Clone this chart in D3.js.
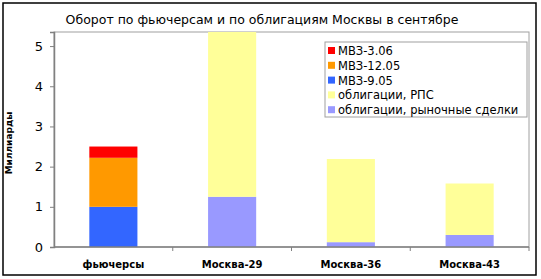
<!DOCTYPE html>
<html>
<head>
<meta charset="utf-8">
<script src="https://cdn.jsdelivr.net/npm/d3@7"></script>
<style>
body { margin: 0; background: #fff; }
text { font-family: "DejaVu Sans", Verdana, sans-serif; fill: #000; }
</style>
</head>
<body>
<div id="chart"></div>
<script>
// data (billions)
var categories = ["фьючерсы", "Москва-29", "Москва-36", "Москва-43"];
var seriesNames = ["облигации, рыночные сделки", "облигации, РПС", "МВЗ-9.05", "МВЗ-12.05", "МВЗ-3.06"];
var bondsMarket = [0, 1.25, 0.12, 0.30];
var bondsRps = [0, 4.15, 2.07, 1.28];
var mvz905 = [1.0, 0, 0, 0];
var mvz1205 = [1.22, 0, 0, 0];
var mvz306 = [0.28, 0, 0, 0];
var seriesColors = ["#9999FF", "#FFFF99", "#3366FF", "#FF9900", "#FF0000"];
var yTicks = [0, 1, 2, 3, 4, 5];

var W = 541, H = 279;
var plot = {left: 54, top: 32, right: 529, bottom: 247};

var svg = d3.select("#chart").append("svg")
  .attr("width", W)
  .attr("height", H);

// outer frame
svg.append("rect")
  .attr("x", 3).attr("y", 3)
  .attr("width", 533).attr("height", 272)
  .attr("fill", "#fff")
  .attr("stroke", "#000")
  .attr("stroke-width", 1.5);

var rows = categories.map(function (c, i) {
  var r = {cat: c};
  r[seriesNames[0]] = bondsMarket[i];
  r[seriesNames[1]] = bondsRps[i];
  r[seriesNames[2]] = mvz905[i];
  r[seriesNames[3]] = mvz1205[i];
  r[seriesNames[4]] = mvz306[i];
  return r;
});

var stacked = d3.stack().keys(seriesNames)(rows);

var x = d3.scaleBand()
  .domain(categories)
  .range([plot.left, plot.right])
  .padding(0);

var y = d3.scaleLinear()
  .domain([0, 5.35])
  .range([plot.bottom, plot.top]);

svg.append("defs").append("clipPath")
  .attr("id", "clip")
  .append("rect")
  .attr("x", plot.left).attr("y", plot.top)
  .attr("width", plot.right - plot.left)
  .attr("height", plot.bottom - plot.top);

// plot border
svg.append("rect")
  .attr("x", plot.left).attr("y", plot.top)
  .attr("width", plot.right - plot.left)
  .attr("height", plot.bottom - plot.top)
  .attr("fill", "none")
  .attr("stroke", "#a0a0a0")
  .attr("stroke-width", 1);

var barW = x.bandwidth() * 0.405;
var bars = svg.append("g").attr("clip-path", "url(#clip)");

bars.selectAll(".layer")
  .data(stacked)
  .enter().append("g")
  .attr("class", "layer")
  .attr("fill", function (d, i) { return seriesColors[i]; })
  .selectAll("rect")
  .data(function (d) { return d; })
  .enter().append("rect")
  .attr("x", function (d) { return x(d.data.cat) + (x.bandwidth() - barW) / 2; })
  .attr("y", function (d) { return y(d[1]); })
  .attr("width", barW)
  .attr("height", function (d) { return y(d[0]) - y(d[1]); });

// y axis
var yAxis = d3.axisLeft(y).tickValues(yTicks).tickSize(4).tickPadding(7).tickFormat(d3.format("d"));
var gy = svg.append("g")
  .attr("transform", "translate(" + plot.left + ",0)")
  .call(yAxis);
gy.select(".domain").attr("stroke", "#808080").attr("stroke-width", 1.5);
gy.selectAll(".tick line").attr("stroke", "#808080");
gy.selectAll(".tick text")
  .style("font-family", "DejaVu Sans, sans-serif")
  .style("font-size", "13px")
  .attr("fill", "#000");

// x axis: ticks at category boundaries
var gx = svg.append("g")
  .attr("transform", "translate(0," + plot.bottom + ")");
gx.append("line")
  .attr("x1", plot.left).attr("x2", plot.right)
  .attr("stroke", "#808080").attr("stroke-width", 1.5);
gx.selectAll(".sep")
  .data(categories)
  .enter().append("line")
  .attr("class", "sep")
  .attr("x1", function (d) { return x(d) + x.bandwidth(); })
  .attr("x2", function (d) { return x(d) + x.bandwidth(); })
  .attr("y1", 0).attr("y2", 4)
  .attr("stroke", "#808080");
gx.selectAll(".cat")
  .data(categories)
  .enter().append("text")
  .attr("class", "cat")
  .attr("x", function (d) { return x(d) + x.bandwidth() / 2; })
  .attr("y", 21)
  .attr("text-anchor", "middle")
  .style("font-size", "10px")
  .style("font-weight", "bold")
  .text(function (d) { return d; });

// title
svg.append("text")
  .attr("x", 262)
  .attr("y", 24)
  .attr("text-anchor", "middle")
  .style("font-size", "12.5px")
  .text("Оборот по фьючерсам и по облигациям Москвы в сентябре");

// y axis label, tucked against the frame
svg.append("text")
  .attr("transform", "translate(12,143) rotate(-90)")
  .attr("text-anchor", "middle")
  .style("font-size", "9px")
  .style("font-weight", "bold")
  .text("Миллиарды");

// legend
var legend = svg.append("g").attr("transform", "translate(325,42)");
legend.append("rect")
  .attr("width", 202).attr("height", 75)
  .attr("fill", "#fff")
  .attr("stroke", "#a0a0a0");

var legendOrder = [4, 3, 2, 1, 0];
var items = legend.selectAll(".item")
  .data(legendOrder)
  .enter().append("g")
  .attr("class", "item")
  .attr("transform", function (d, i) { return "translate(0," + (9 + i * 14.8) + ")"; });
items.append("rect")
  .attr("x", 3).attr("y", -4)
  .attr("width", 7).attr("height", 7)
  .attr("fill", function (d) { return seriesColors[d]; });
items.append("text")
  .attr("x", 13).attr("y", 4)
  .style("font-size", "11.5px")
  .style("letter-spacing", "0px")
  .text(function (d) { return seriesNames[d]; });
</script>
</body>
</html>
